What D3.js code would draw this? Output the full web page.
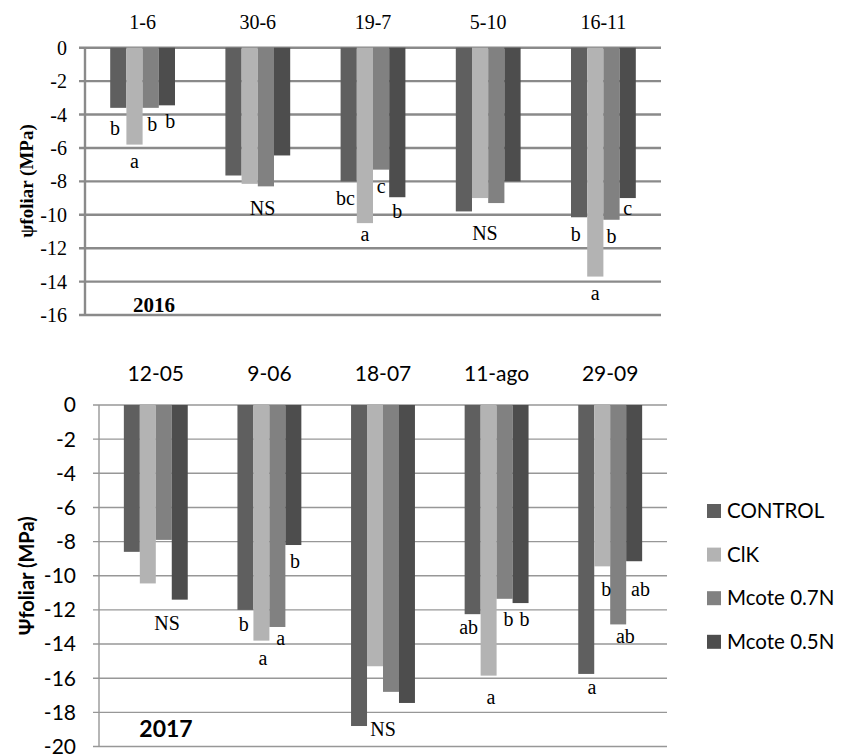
<!DOCTYPE html>
<html>
<head>
<meta charset="utf-8">
<script src="https://cdn.jsdelivr.net/npm/d3@7"></script>
<style>
  body { margin: 0; background: #fff; }
  svg { display: block; }
</style>
</head>
<body>
<svg id="chart" width="843" height="756"></svg>
<script>
// series names and colours
const seriesNames = ['CONTROL', 'ClK', 'Mcote 0.7N', 'Mcote 0.5N'];
const seriesColors = ['#5f5f5f', '#b3b3b3', '#818181', '#4d4d4d'];

// 2016 campaign
const dates2016 = ['1-6', '30-6', '19-7', '5-10', '16-11'];
const control2016 = [-3.6, -7.65, -8.0, -9.8, -10.15];
const clk2016 = [-5.8, -8.15, -10.5, -9.0, -13.7];
const mcote07_2016 = [-3.6, -8.3, -7.3, -9.3, -10.3];
const mcote05_2016 = [-3.45, -6.45, -8.95, -8.0, -9.0];
const ticks2016 = [0, -2, -4, -6, -8, -10, -12, -14, -16];

// 2017 campaign
const dates2017 = ['12-05', '9-06', '18-07', '11-ago', '29-09'];
const control2017 = [-8.6, -12.0, -18.8, -12.25, -15.75];
const clk2017 = [-10.45, -13.8, -15.3, -15.85, -9.45];
const mcote07_2017 = [-7.9, -13.0, -16.8, -11.35, -12.85];
const mcote05_2017 = [-11.4, -8.2, -17.45, -11.6, -9.15];
const ticks2017 = [0, -2, -4, -6, -8, -10, -12, -14, -16, -18, -20];

// significance letters: [date index, series slot, text, value]
const letters2016 = [
  [0, -0.2, 'b', -4.8], [0, 1, 'a', -6.8], [0, 2.1, 'b', -4.55], [0, 3.2, 'b', -4.4],
  [1, 1.8, 'NS', -9.6],
  [2, -0.2, 'bc', -9.0], [2, 1, 'a', -11.15], [2, 2, 'c', -8.3], [2, 3, 'b', -9.8],
  [3, 1.3, 'NS', -11.1],
  [4, -0.2, 'b', -11.15], [4, 1, 'a', -14.7], [4, 2, 'b', -11.3], [4, 3, 'c', -9.6]
];
const letters2017 = [
  [0, 2.2, 'NS', -12.77],
  [1, -0.1, 'b', -12.85], [1, 1.1, 'a', -14.8], [1, 2.2, 'a', -13.65], [1, 3.1, 'b', -9.15],
  [2, 1.5, 'NS', -18.95],
  [3, -0.25, 'ab', -13.0], [3, 1.15, 'a', -17.1], [3, 2.25, 'b', -12.55], [3, 3.25, 'b', -12.55],
  [4, 0.35, 'a', -16.5], [4, 1.25, 'b', -10.75], [4, 2.45, 'ab', -13.5], [4, 3.4, 'ab', -10.75]
];

const svg = d3.select('#chart');
const serif = '"Liberation Serif", "Times New Roman", serif';
const sans = 'Lato, "Open Sans", sans-serif';

function drawPanel(opt) {
  const g = svg.append('g');
  const y = d3.scaleLinear().domain([0, opt.ticks[opt.ticks.length - 1]])
    .range([opt.top, opt.bottom]);
  const p = 0.4375;
  const x0 = d3.scaleBand().domain(opt.dates).range([opt.left, opt.right])
    .paddingInner(p).paddingOuter(p / 2);
  const x1 = d3.scaleBand().domain(d3.range(4)).range([0, x0.bandwidth()]);
  const slot = d3.scaleLinear().domain([-0.5, 3.5]).range([0, x0.bandwidth()]);

  // gridlines + ticks
  g.selectAll('.grid').data(opt.ticks).enter().append('line')
    .attr('x1', opt.left - 6).attr('x2', opt.right)
    .attr('y1', d => y(d)).attr('y2', d => y(d))
    .attr('stroke', opt.gridColor).attr('stroke-width', opt.gridWidth);

  g.append('line')
    .attr('x1', opt.left).attr('x2', opt.left)
    .attr('y1', opt.top).attr('y2', opt.bottom)
    .attr('stroke', opt.gridColor).attr('stroke-width', opt.gridWidth);

  g.selectAll('.tick').data(opt.ticks).enter().append('text')
    .attr('x', opt.labelX).attr('y', d => y(d))
    .attr('dy', '0.35em')
    .attr('text-anchor', 'end')
    .style('font-family', opt.font).style('font-size', opt.fontSize + 'px')
    .text(d => d);

  // bars
  const groups = g.selectAll('.grp').data(opt.dates).enter().append('g')
    .attr('transform', d => `translate(${x0(d)},0)`);
  groups.selectAll('rect')
    .data((d, i) => opt.values.map((s, k) => ({ k, v: s[i] })))
    .enter().append('rect')
    .attr('x', d => x1(d.k))
    .attr('width', x1.bandwidth())
    .attr('y', y(0))
    .attr('height', d => y(d.v) - y(0))
    .attr('fill', d => seriesColors[d.k]);

  // category labels
  g.selectAll('.cat').data(opt.dates).enter().append('text')
    .attr('x', d => x0(d) + x0.bandwidth() / 2)
    .attr('y', opt.catY)
    .attr('text-anchor', 'middle')
    .style('font-family', opt.font).style('font-size', opt.fontSize + 'px')
    .text(d => d);

  // letters
  g.selectAll('.let').data(opt.letters).enter().append('text')
    .attr('x', d => x0(opt.dates[d[0]]) + slot(d[1]))
    .attr('y', d => y(d[3]))
    .attr('dy', '0.35em')
    .attr('text-anchor', 'middle')
    .style('font-family', serif).style('font-size', '20px')
    .text(d => d[2]);

  // y title
  g.append('text')
    .attr('transform', `translate(${opt.titleX},${(opt.top + opt.bottom) / 2 + opt.titleShift}) rotate(-90)`)
    .attr('text-anchor', 'middle')
    .attr('dy', '0.35em')
    .style('font-family', opt.font).style('font-weight', 'bold')
    .style('font-size', opt.titleSize + 'px')
    .text(opt.title);

  // year
  g.append('text')
    .attr('x', opt.yearX).attr('y', opt.yearY)
    .attr('text-anchor', 'middle')
    .style('font-family', opt.font).style('font-weight', 'bold')
    .style('font-size', opt.yearSize + 'px')
    .text(opt.year);
}

drawPanel({
  dates: dates2016,
  values: [control2016, clk2016, mcote07_2016, mcote05_2016],
  ticks: ticks2016, letters: letters2016,
  top: 47.7, bottom: 315, left: 85, right: 661,
  gridColor: '#8a8a8a', gridWidth: 2.4,
  font: serif, fontSize: 20, labelX: 67, catY: 29,
  title: 'ψfoliar (MPa)', titleX: 26, titleShift: -0.4, titleSize: 19,
  year: '2016', yearX: 154, yearY: 312, yearSize: 21
});

drawPanel({
  dates: dates2017,
  values: [control2017, clk2017, mcote07_2017, mcote05_2017],
  ticks: ticks2017, letters: letters2017,
  top: 405, bottom: 746.5, left: 99, right: 667,
  gridColor: '#979797', gridWidth: 1.4,
  font: sans, fontSize: 21, labelX: 76, catY: 381,
  title: 'Ψfoliar (MPa)', titleX: 27, titleShift: 0, titleSize: 20,
  year: '2017', yearX: 166, yearY: 737, yearSize: 23
});

// legend
const legend = svg.append('g').attr('transform', 'translate(707,511)');
const items = legend.selectAll('g').data(seriesNames).enter().append('g')
  .attr('transform', (d, i) => `translate(0,${i * 43.6})`);
items.append('rect')
  .attr('x', 0).attr('y', -7).attr('width', 14).attr('height', 14)
  .attr('fill', (d, i) => seriesColors[i]);
items.append('text')
  .attr('x', 20).attr('y', 0).attr('dy', '0.35em')
  .style('font-family', sans).style('font-size', '20.5px')
  .text(d => d);
</script>
</body>
</html>
